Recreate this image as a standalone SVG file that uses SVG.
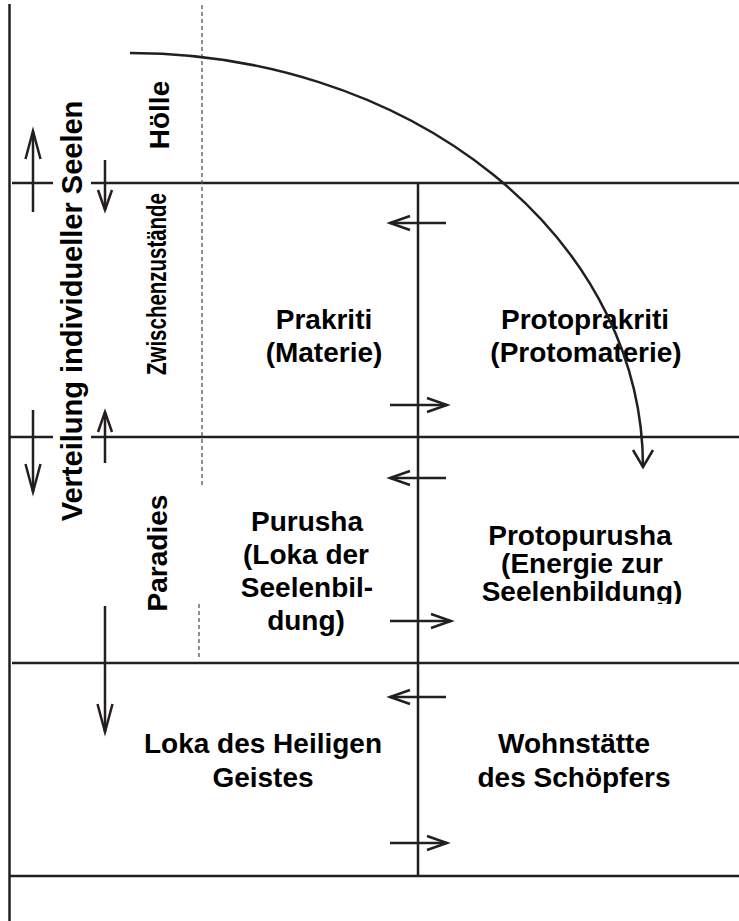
<svg xmlns="http://www.w3.org/2000/svg" width="739" height="921" viewBox="0 0 739 921">
<style>
.ln{stroke:#231f20;stroke-width:2.5;fill:none}
.dash{stroke:#555;stroke-width:1.3;stroke-dasharray:4 3;fill:none}
.t{font-family:"Liberation Sans",Arial,Helvetica,sans-serif;font-weight:bold;font-size:28px;fill:#000;text-anchor:middle}
.ar{stroke:#231f20;stroke-width:2.5;fill:none;marker-end:url(#ah)}
.arb{stroke:#231f20;stroke-width:2.5;fill:none;marker-end:url(#ahb)}
</style>
<defs>
<marker id="ah" markerUnits="userSpaceOnUse" markerWidth="30" markerHeight="20" orient="auto" overflow="visible">
<path d="M-20,-7 L0,0 L-20,7" fill="none" stroke="#231f20" stroke-width="2.5"/>
</marker>
<marker id="ahb" markerUnits="userSpaceOnUse" markerWidth="30" markerHeight="20" orient="auto" overflow="visible">
<path d="M-28,-7.5 L0,0 L-28,7.5" fill="none" stroke="#231f20" stroke-width="2.5"/>
</marker>
<marker id="ahc" markerUnits="userSpaceOnUse" markerWidth="30" markerHeight="20" orient="auto" overflow="visible">
<path d="M-17,-10 L0,0 L-17,10" fill="none" stroke="#231f20" stroke-width="2.5"/>
</marker>
<clipPath id="clipPP"><rect x="440" y="500" width="299" height="104"/></clipPath>
</defs>

<g id="grid">
<path class="ln" d="M9.5,4 V921"/>
<path class="ln" d="M12,183 H53 M91,183 H739"/>
<path class="ln" d="M10,437 H53 M91,437 H739"/>
<path class="ln" d="M12,663 H739"/>
<path class="ln" d="M10,876 H739"/>
<path class="ln" d="M418,183 V877"/>
<path class="dash" d="M202,5 V487"/>
<path class="dash" d="M199,604 V660"/>
</g>

<g id="verteilung">
<text class="t" font-size="29" transform="translate(82,311) rotate(-90)" style="font-size:29px">Verteilung individueller Seelen</text>
</g>
<g id="hoelle">
<text class="t" transform="translate(169,115) rotate(-90)">Hölle</text>
</g>
<g id="zwischenzustaende">
<text class="t" transform="translate(166,284) rotate(-90)" textLength="182" lengthAdjust="spacingAndGlyphs">Zwischenzustände</text>
</g>
<g id="paradies">
<text class="t" transform="translate(167,553) rotate(-90)">Paradies</text>
</g>

<g id="prakriti">
<text class="t" x="324" y="329">Prakriti</text>
<text class="t" x="324" y="362">(Materie)</text>
</g>
<g id="protoprakriti">
<text class="t" x="585" y="329">Protoprakriti</text>
<text class="t" x="586" y="362">(Protomaterie)</text>
</g>
<g id="purusha">
<text class="t" x="307" y="531">Purusha</text>
<text class="t" x="306" y="564">(Loka der</text>
<text class="t" x="307" y="597">Seelenbil-</text>
<text class="t" x="306" y="630">dung)</text>
</g>
<g id="protopurusha" clip-path="url(#clipPP)">
<text class="t" x="580" y="545">Protopurusha</text>
<text class="t" x="582" y="573">(Energie zur</text>
<text class="t" x="582" y="601">Seelenbildung)</text>
</g>
<g id="heiliger-geist">
<text class="t" x="263" y="753">Loka des Heiligen</text>
<text class="t" x="263" y="787">Geistes</text>
</g>
<g id="schoepfer">
<text class="t" x="574" y="753">Wohnstätte</text>
<text class="t" x="574" y="787">des Schöpfers</text>
</g>

<g id="connectors">
<path d="M130,53 A513,414 0 0 1 643,467" fill="none" stroke="#231f20" stroke-width="2.5" marker-end="url(#ahc)"/>
<path class="ar" d="M446,223 H390"/>
<path class="ar" d="M390,405 H447"/>
<path class="ar" d="M446,478 H390"/>
<path class="ar" d="M390,621 H451"/>
<path class="ar" d="M446,697 H390"/>
<path class="ar" d="M390,843 H447"/>
<path class="arb" d="M33,212 V131"/>
<path class="ar" d="M105,160 V210"/>
<path class="arb" d="M33,410 V492"/>
<path class="ar" d="M105,463 V412"/>
<path class="arb" d="M105,606 V732"/>
</g>
</svg>
